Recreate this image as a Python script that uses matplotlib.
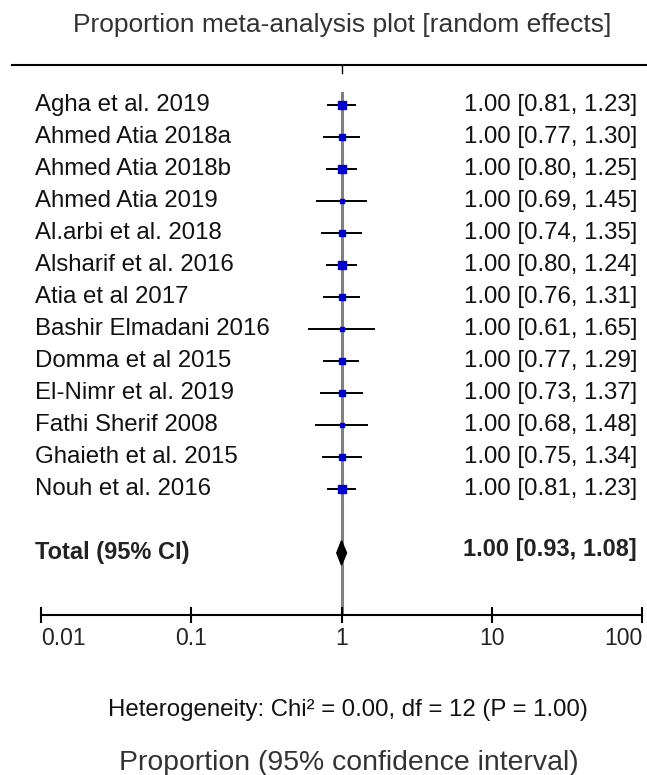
import numpy as np
import matplotlib
matplotlib.use("Agg")
import matplotlib.pyplot as plt
from matplotlib.lines import Line2D
import matplotlib.transforms as mtransforms

plt.rcParams['font.family'] = ['Liberation Sans', 'DejaVu Sans']

# data
studies = ["Agha et al. 2019", "Ahmed Atia 2018a", "Ahmed Atia 2018b",
           "Ahmed Atia 2019", "Al.arbi et al. 2018", "Alsharif et al. 2016",
           "Atia et al 2017", "Bashir Elmadani 2016", "Domma et al 2015",
           "El-Nimr et al. 2019", "Fathi Sherif 2008", "Ghaieth et al. 2015",
           "Nouh et al. 2016"]
est = [1.00] * 13
lo = [0.81, 0.77, 0.80, 0.69, 0.74, 0.80, 0.76, 0.61, 0.77, 0.73, 0.68, 0.75, 0.81]
hi = [1.23, 1.30, 1.25, 1.45, 1.35, 1.24, 1.31, 1.65, 1.29, 1.37, 1.48, 1.34, 1.23]
total_est, total_lo, total_hi = 1.00, 0.93, 1.08
xticks = [0.01, 0.1, 1, 10, 100]
xticklabels = ["0.01", "0.1", "1", "10", "100"]

W, H = 647, 775
fs = 17.3
fig = plt.figure(figsize=(W / 100, H / 100), dpi=100)
# axes spans 0.01 -> 100 horizontally, top rule -> bottom axis vertically
ax = fig.add_axes([41 / W, 1 - 615 / H, 601 / W, 550 / H])
ax.set_xscale("log")
ax.set_xlim(0.01, 100)
ax.set_ylim(15.94, -1.25)

# line of no effect
ax.plot([1, 1], [-0.37, 15.94], color="#808080", lw=2.2, zorder=1)

# study CIs and weighted squares
for i in range(len(studies)):
    ax.plot([lo[i], hi[i]], [i, i], color="black", lw=1.4, zorder=2)
    se = np.log(hi[i] / lo[i]) / 3.92
    side_px = 0.853 * np.sqrt(1 / se ** 2)
    ax.plot(est[i], i, marker="s", ms=side_px * 0.72, color="#0000cc",
            mec="#0000cc", zorder=3)

# total diamond
ty = len(studies) + 1
ax.fill([total_lo, total_est, total_hi, total_est], [ty, ty - 0.38, ty, ty + 0.38],
        color="black", zorder=3)

trans = mtransforms.blended_transform_factory(ax.transAxes, ax.transData)
for i, s in enumerate(studies):
    ax.text(-0.01, i, s, transform=trans, ha="left", va="center", fontsize=fs,
            color="#111111")
    ax.text(0.9917, i, "%.2f [%.2f, %.2f]" % (est[i], lo[i], hi[i]),
            transform=trans, ha="right", va="center", fontsize=fs, color="#111111")
ax.text(-0.01, ty, "Total (95% CI)", transform=trans, ha="left", va="center",
        fontsize=fs - 0.3, fontweight="bold", color="#222222")
ax.text(0.9917, ty - 0.12, "%.2f [%.2f, %.2f]" % (total_est, total_lo, total_hi),
        transform=trans, ha="right", va="center", fontsize=fs - 0.3, fontweight="bold",
        color="#222222")

for sp in ["top", "left", "right"]:
    ax.spines[sp].set_visible(False)
ax.spines["bottom"].set_linewidth(1.5)
ax.set_yticks([])
ax.set_xticks(xticks)
ax.set_xticklabels(xticklabels, fontsize=16.5, color="#222222")
ax.minorticks_off()
ax.tick_params(axis="x", direction="inout", length=11, width=1.5, pad=3)
labs = ax.get_xticklabels()
labs[0].set_ha("left")
labs[-1].set_ha("right")
ax.patch.set_alpha(0)

# top rule with small tick at 1
fig.add_artist(Line2D([12 / W, 1.0], [1 - 65 / H, 1 - 65 / H], color="black", lw=1.5))
ax.plot([1, 1], [-1.25, -1.0], color="black", lw=1.0, clip_on=False)

fig.text(342 / W, 1 - 25 / H, "Proportion meta-analysis plot [random effects]",
         ha="center", va="center", fontsize=19, color="#333333")
fig.text(348 / W, 1 - 710 / H, "Heterogeneity: Chi² = 0.00, df = 12 (P = 1.00)",
         ha="center", va="center", fontsize=fs, color="#111111")
fig.text(349 / W, 1 - 763 / H, "Proportion (95% confidence interval)",
         ha="center", va="center", fontsize=20.4, color="#333333")

fig.savefig("out.png", dpi=100)
